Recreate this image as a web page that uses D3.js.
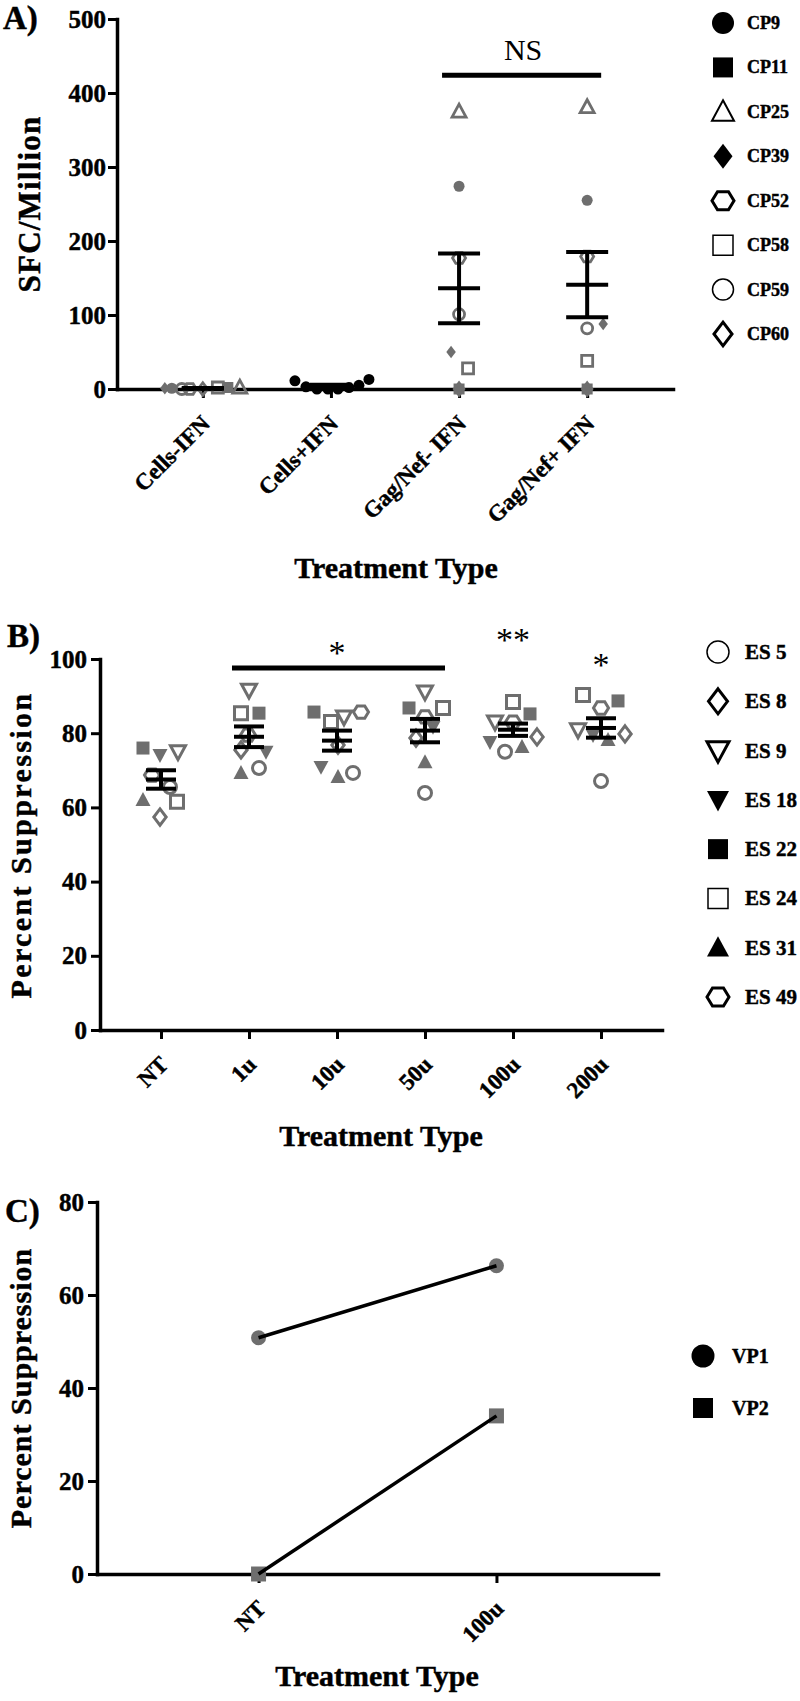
<!DOCTYPE html>
<html><head><meta charset="utf-8">
<script src="https://cdn.jsdelivr.net/npm/d3@7"></script>
<style>
body{margin:0;background:#fff;}
svg text{font-family:"Liberation Serif","Times New Roman",serif;}
svg text.bold, svg .tick text{stroke:#000;stroke-width:0.45px;}
</style></head><body>
<svg id="chart" width="800" height="1701"></svg>
<script>
// ================= DATA =================
// Panel A
const catsA = ["Cells-IFN", "Cells+IFN", "Gag/Nef- IFN", "Gag/Nef+ IFN"];
const donorsA = ["CP9", "CP11", "CP25", "CP39", "CP52", "CP58", "CP59", "CP60"];
const valsA_CP9  = [1, 11, 274, 255];
const valsA_CP11 = [2, 3, 0, 0];
const valsA_CP25 = [2, 0, 375, 381];
const valsA_CP39 = [1, 0, 50, 88];
const valsA_CP52 = [0, 0, 177, 179];
const valsA_CP58 = [2, 2, 28, 38];
const valsA_CP59 = [0, 5, 101, 82];
const valsA_CP60 = [0, 13, 0, 0];
const meansA = [1, 4, 136, 141];
const semsA  = [0.5, 1.7, 47, 44];
const ticksA = [0, 100, 200, 300, 400, 500];

// Panel B
const catsB = ["NT", "1u", "10u", "50u", "100u", "200u"];
const donorsB = ["ES 5", "ES 8", "ES 9", "ES 18", "ES 22", "ES 24", "ES 31", "ES 49"];
const valsB_ES5  = [65.5, 70.6, 69.3, 63.9, 75.0, 67.1];
const valsB_ES8  = [57.4, 75.5, 76.8, 78.7, 79.0, 79.8];
const valsB_ES9  = [75.0, 91.6, 84.4, 91.1, 83.0, 80.9];
const valsB_ES18 = [74.1, 75.0, 70.9, 81.7, 77.6, 79.5];
const valsB_ES22 = [76.0, 85.4, 85.7, 86.8, 85.2, 88.7];
const valsB_ES24 = [61.5, 85.4, 83.0, 86.8, 88.4, 90.3];
const valsB_ES31 = [62.0, 69.3, 68.2, 72.2, 76.3, 78.2];
const valsB_ES49 = [68.7, 79.5, 85.7, 84.4, 83.0, 86.8];
const ticksB = [0, 20, 40, 60, 80, 100];

// Panel C
const catsC = ["NT", "100u"];
const seriesC = ["VP1", "VP2"];
const valsC_VP1 = [50.8, 66.3];
const valsC_VP2 = [0, 34];
const ticksC = [0, 20, 40, 60, 80];

// ================= LAYOUT (positions / styles) =================
// horizontal scatter offsets (px) of each donor inside a group
const jitterA = [
  [-31, -36, 0, 0], [25, -25, 0, 0], [37, -14, 0, 0], [-38, -3, -8, 16],
  [-13, 7, 0, 0], [15, 18, 9, 0], [-21, 28, 0, 0], [0, 38, 0, 0]
];
const jitterB = [
  [9, 10, 16, 0, -8, 0], [-1, -8, 1, -9, 24, 24], [17, 0, 7, 0, -18, -23],
  [-1, 17, -16, 8, -23, -8], [-18, 10, -23, -16, 17, 17], [16, -8, -6, 18, 0, -18],
  [-18, -8, 1, 0, 9, 7], [-9, -1, 24, 0, 0, 0]
];
const shapesA = ["circle", "square", "triUp", "diamond", "hexagon", "square", "circle", "diamond"];
const filledA = [true, true, false, true, false, false, false, false];
const shapesB = ["circle", "diamond", "triDown", "triDown", "square", "square", "triUp", "hexagon"];
const filledB = [false, false, false, true, true, false, true, false];

const GRAY = "#6e6e6e";
const FONT = '"Liberation Serif","Times New Roman",serif';

// ================= SYMBOLS =================
const symTypes = {
  circle: {draw(c, s){const r=Math.sqrt(s); c.moveTo(r,0); c.arc(0,0,r,0,2*Math.PI);}},
  square: {draw(c, s){const r=Math.sqrt(s); c.rect(-r,-r,2*r,2*r);}},
  triUp: {draw(c, s){const r=Math.sqrt(s); c.moveTo(0,-1.05*r); c.lineTo(r,0.8*r); c.lineTo(-r,0.8*r); c.closePath();}},
  triDown: {draw(c, s){const r=Math.sqrt(s); c.moveTo(0,1.05*r); c.lineTo(r,-0.8*r); c.lineTo(-r,-0.8*r); c.closePath();}},
  diamond: {draw(c, s){const r=Math.sqrt(s); c.moveTo(0,-1.25*r); c.lineTo(0.95*r,0); c.lineTo(0,1.25*r); c.lineTo(-0.95*r,0); c.closePath();}},
  hexagon: {draw(c, s){const r=Math.sqrt(s); for(let i=0;i<6;i++){const a=i*Math.PI/3; const x=r*Math.cos(a), y=r*Math.sin(a)*0.95; if(i) c.lineTo(x,y); else c.moveTo(x,y);} c.closePath();}}
};
function sym(type, r){ return d3.symbol().type(symTypes[type]).size(r*r)(); }

const svg = d3.select("#chart");

function styleAxis(g, fs){
  g.attr("font-family", FONT).attr("font-size", fs).attr("font-weight", "bold");
  g.select(".domain").attr("stroke", "#000").attr("stroke-width", 3.5).attr("stroke-linecap", "square");
  g.selectAll(".tick line").attr("stroke", "#000").attr("stroke-width", 3);
  g.selectAll(".tick text").attr("fill", "#000");
}
function rotateX(g){
  g.selectAll(".tick text")
    .attr("x", 0).attr("y", 0).attr("dy", 0)
    .attr("text-anchor", "end")
    .attr("transform", "translate(8,36) rotate(-45)");
}
function label(txt, x, y, fs, opts={}){
  const w = opts.weight || "bold";
  const t = svg.append("text").attr("x", x).attr("y", y).text(txt)
    .attr("class", w === "bold" ? "bold" : null)
    .attr("font-family", FONT).attr("font-size", fs)
    .attr("font-weight", w)
    .attr("text-anchor", opts.anchor || "start");
  if (opts.ls) t.attr("letter-spacing", opts.ls);
  if (opts.rotate) t.attr("transform", `rotate(-90,${x},${y})`);
  if (opts.baseline) t.attr("dominant-baseline", opts.baseline);
  return t;
}
function errBar(g, x, yMean, yLo, yHi, hw){
  const s = {stroke:"#000", "stroke-width":4};
  const add = (x1,y1,x2,y2)=>{const l=g.append("line").attr("x1",x1).attr("y1",y1).attr("x2",x2).attr("y2",y2); for(const k in s) l.attr(k,s[k]);};
  add(x, yLo, x, yHi);
  add(x-hw, yMean, x+hw, yMean);
  add(x-hw, yLo, x+hw, yLo);
  add(x-hw, yHi, x+hw, yHi);
}
function drawPoint(g, x, y, shape, filled, r, color, sw){
  g.append("path").attr("d", sym(shape, r))
    .attr("transform", `translate(${x},${y})`)
    .attr("fill", filled ? color : "none")
    .attr("stroke", color).attr("stroke-width", filled ? 0 : sw)
    .attr("stroke-linejoin", "miter");
}

// ================= PANEL A =================
{
  const xA = d3.scalePoint().domain(catsA).range([117, 673]).padding(0.67);
  const yA = d3.scaleLinear().domain([0, 500]).range([389, 19]);
  const valsA = [valsA_CP9, valsA_CP11, valsA_CP25, valsA_CP39, valsA_CP52, valsA_CP58, valsA_CP59, valsA_CP60];

  const gx = svg.append("g").attr("transform", "translate(0,389)")
    .call(d3.axisBottom(xA).tickSize(9).tickSizeOuter(0));
  styleAxis(gx, 23); rotateX(gx);
  const gy = svg.append("g").attr("transform", "translate(117,0)")
    .call(d3.axisLeft(yA).tickValues(ticksA).tickSize(9).tickPadding(2).tickSizeOuter(0));
  styleAxis(gy, 25);

  const gp = svg.append("g");
  donorsA.forEach((d, di) => {
    catsA.forEach((c, ci) => {
      const x = xA(c) + jitterA[di][ci], y = yA(valsA[di][ci]);
      if (ci === 1) drawPoint(gp, x, y, "circle", true, 5.5, "#000", 0);
      else {
        const sh = shapesA[di];
        const r = sh === "triUp" ? 7 : sh === "hexagon" ? 6.5 : sh === "diamond" ? 5 : 5.5;
        drawPoint(gp, x, y, sh, filledA[di], r, GRAY, 2.8);
      }
    });
  });
  const ge = svg.append("g");
  catsA.forEach((c, i) => errBar(ge, xA(c), yA(meansA[i]), yA(meansA[i]-semsA[i]), yA(meansA[i]+semsA[i]), 21));

  // significance
  svg.append("line").attr("x1", xA(catsA[2]) - 17).attr("x2", xA(catsA[3]) + 14)
    .attr("y1", yA(424)).attr("y2", yA(424)).attr("stroke", "#000").attr("stroke-width", 5);
  label("NS", (xA(catsA[2]) + xA(catsA[3])) / 2, 60, 30, {weight: "normal", anchor: "middle"});

  label("A)", 3, 29, 33);
  label("SFC/Million", 40, 204, 31, {anchor: "middle", rotate: true, ls: 1.2});
  label("Treatment Type", 396, 578, 30, {anchor: "middle"});

  // legend
  const ly = d3.scaleLinear().domain([0, 7]).range([23, 334]);
  const legR = [11, 10, 11, 10, 11, 10, 10.5, 9.5];
  const legSW = [0, 0, 2, 0, 3, 1.5, 1.5, 3];
  donorsA.forEach((d, i) => {
    drawPoint(svg, 723, ly(i), shapesA[i], filledA[i], legR[i], "#000", legSW[i]);
    label(d, 747, ly(i), 18, {baseline: "central"});
  });
}

// ================= PANEL B =================
{
  const xB = d3.scalePoint().domain(catsB).range([100, 662]).padding(0.693);
  const yB = d3.scaleLinear().domain([0, 100]).range([1030, 659]);
  const valsB = [valsB_ES5, valsB_ES8, valsB_ES9, valsB_ES18, valsB_ES22, valsB_ES24, valsB_ES31, valsB_ES49];

  const gx = svg.append("g").attr("transform", "translate(0,1030)")
    .call(d3.axisBottom(xB).tickSize(9).tickSizeOuter(0));
  styleAxis(gx, 23); rotateX(gx);
  const gy = svg.append("g").attr("transform", "translate(100,0)")
    .call(d3.axisLeft(yB).tickValues(ticksB).tickSize(9).tickPadding(4).tickSizeOuter(0));
  styleAxis(gy, 25);

  const gp = svg.append("g");
  donorsB.forEach((d, di) => {
    catsB.forEach((c, ci) => {
      const sh = shapesB[di];
      const r = sh.startsWith("tri") ? 7.5 : sh === "hexagon" ? 7.5 : 6.5;
      drawPoint(gp, xB(c) + jitterB[di][ci], yB(valsB[di][ci]), sh, filledB[di], r, GRAY, 3);
    });
  });
  const ge = svg.append("g");
  catsB.forEach((c, ci) => {
    const v = valsB.map(a => a[ci]);
    const m = d3.mean(v), se = d3.deviation(v) / Math.sqrt(v.length);
    errBar(ge, xB(c), yB(m), yB(m - se), yB(m + se), 15);
  });

  svg.append("line").attr("x1", xB("1u") - 17).attr("x2", xB("50u") + 20)
    .attr("y1", 668).attr("y2", 668).attr("stroke", "#000").attr("stroke-width", 5);
  label("*", xB("10u"), 664, 34, {weight: "normal", anchor: "middle"});
  label("**", xB("100u"), 651, 34, {weight: "normal", anchor: "middle"});
  label("*", xB("200u"), 676, 34, {weight: "normal", anchor: "middle"});

  label("B)", 7, 647, 33);
  label("Percent Suppression", 31, 845, 30, {anchor: "middle", rotate: true, ls: 2.4});
  label("Treatment Type", 381, 1146, 30, {anchor: "middle"});

  const ly = d3.scaleLinear().domain([0, 7]).range([652, 997]);
  const legR = [11, 10, 11, 11, 10, 10, 11, 11];
  const legSW = [1.5, 3, 3, 0, 0, 1.5, 0, 3];
  donorsB.forEach((d, i) => {
    drawPoint(svg, 718, ly(i), shapesB[i], filledB[i], legR[i], "#000", legSW[i]);
    label(d, 745, ly(i), 21, {baseline: "central"});
  });
}

// ================= PANEL C =================
{
  const xC = d3.scalePoint().domain(catsC).range([97, 658]).padding(0.679);
  const yC = d3.scaleLinear().domain([0, 80]).range([1574, 1202]);
  const valsC = [valsC_VP1, valsC_VP2];
  const shapesC = ["circle", "square"];

  const gx = svg.append("g").attr("transform", "translate(0,1574)")
    .call(d3.axisBottom(xC).tickSize(9).tickSizeOuter(0));
  styleAxis(gx, 23); rotateX(gx);
  const gy = svg.append("g").attr("transform", "translate(97,0)")
    .call(d3.axisLeft(yC).tickValues(ticksC).tickSize(9).tickPadding(4).tickSizeOuter(0));
  styleAxis(gy, 25);

  const line = d3.line().x((d, i) => xC(catsC[i])).y(d => yC(d));
  valsC.forEach((vals, si) => {
    vals.forEach((v, i) => drawPoint(svg, xC(catsC[i]), yC(v), shapesC[si], true, 7.5, GRAY, 0));
    svg.append("path").attr("d", line(vals)).attr("fill", "none").attr("stroke", "#000").attr("stroke-width", 3.5);
  });

  label("C)", 5, 1222, 33);
  label("Percent Suppression", 31, 1388, 30, {anchor: "middle", rotate: true, ls: 1});
  label("Treatment Type", 377, 1686, 30, {anchor: "middle"});

  const ly = d3.scaleLinear().domain([0, 1]).range([1356, 1408]);
  seriesC.forEach((s, i) => {
    drawPoint(svg, 703, ly(i), shapesC[i], true, i ? 10 : 11.5, "#000", 0);
    label(s, 732, ly(i), 20, {baseline: "central"});
  });
}
</script>
</body></html>
